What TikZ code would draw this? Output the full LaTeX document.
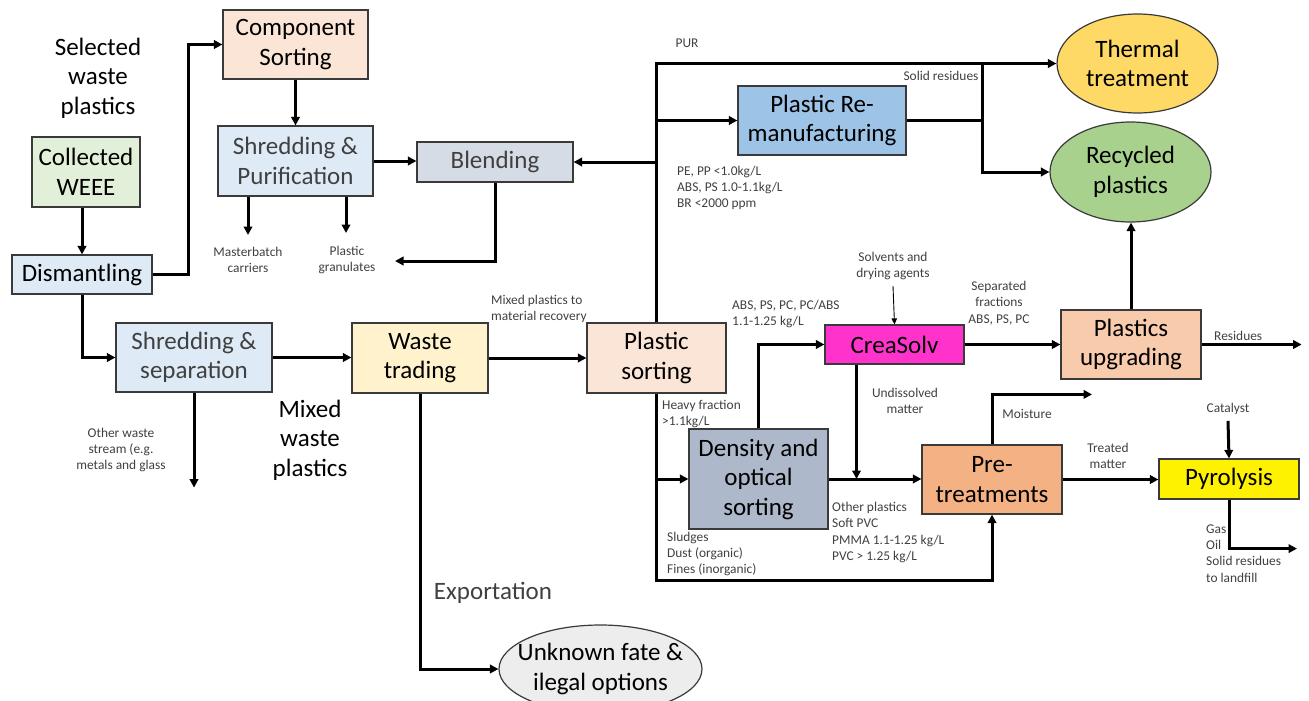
\documentclass[tikz,border=0pt]{standalone}
\usepackage{fontspec}
\setmainfont{Carlito}
\usetikzlibrary{arrows.meta,shapes.geometric}
\definecolor{cPeach}{HTML}{FBE5D6}
\definecolor{cGreen}{HTML}{E2F0D9}
\definecolor{cLBlue}{HTML}{DEEBF7}
\definecolor{cBlend}{HTML}{D6DCE5}
\definecolor{cMBlue}{HTML}{9DC3E6}
\definecolor{cGold}{HTML}{FFD966}
\definecolor{cRecyc}{HTML}{A9D18E}
\definecolor{cCream}{HTML}{FFF2CC}
\definecolor{cSlate}{HTML}{ADB9CA}
\definecolor{cMagenta}{HTML}{FF33CC}
\definecolor{cSalmon}{HTML}{F8CBAD}
\definecolor{cOrange}{HTML}{F4B183}
\definecolor{cGrayE}{HTML}{EDEDED}
\definecolor{cTxt}{HTML}{404040}
\definecolor{cEdge}{HTML}{3A3A3A}
\tikzset{
  big/.style={font=\fontsize{25}{29.5}\selectfont},
  small/.style={font=\fontsize{13.4}{16.3}\selectfont, text=cTxt},
  box/.style={draw=cEdge, line width=1.2pt, inner sep=0pt, align=center, big},
  oval/.style={box, ellipse, inner xsep=-20pt, inner ysep=-10pt},
  lbl/.style={small, inner sep=0pt, align=center},
  lbll/.style={small, inner sep=0pt, align=left, anchor=west},
  arr/.style={line width=3pt, -{Triangle[length=8.5pt,width=8.5pt]}},
  ln/.style={line width=3pt},
  thinarr/.style={line width=0.9pt, -{Triangle[length=6pt,width=5.5pt]}}
}
\begin{document}
\begin{tikzpicture}[x=1pt,y=-1pt]
\useasboundingbox (0,0) rectangle (1309,701);
% boxes
\node[box, fill=cPeach, minimum width=145pt, minimum height=69pt] (comp) at (295.5,44.5) {Component\\Sorting};
\node[box, fill=cGreen, minimum width=108pt, minimum height=70pt] (weee) at (86,172) {Collected\\WEEE};
\node[box, fill=cLBlue, minimum width=140pt, minimum height=39pt] (dism) at (82,274.5) {Dismantling};
\node[box, fill=cLBlue, text=cTxt, minimum width=155pt, minimum height=70pt] (shp) at (295.5,161) {Shredding \&\\Purification};
\node[box, fill=cBlend, text=cTxt, minimum width=156pt, minimum height=40pt] (blend) at (495,162) {Blending};
\node[box, fill=cMBlue, minimum width=168pt, minimum height=69pt] (prm) at (822,120.5) {Plastic Re-\\manufacturing};
\node[oval, fill=cGold, minimum width=161pt, minimum height=99pt] (thermal) at (1137.5,63.5) {Thermal\\treatment};
\node[oval, fill=cRecyc, minimum width=161pt, minimum height=100pt] (recyc) at (1130.5,172) {Recycled\\plastics};
\node[box, fill=cLBlue, text=cTxt, minimum width=156pt, minimum height=69pt] (shs) at (194,357.5) {Shredding \&\\separation};
\node[box, fill=cCream, minimum width=136pt, minimum height=70pt] (wt) at (420,358) {Waste\\trading};
\node[box, fill=cPeach, minimum width=139pt, minimum height=70pt] (ps) at (656.5,358) {Plastic\\sorting};
\node[box, fill=cSlate, minimum width=139pt, minimum height=100pt] (dos) at (758.5,479) {Density and\\optical\\sorting};
\node[box, fill=cMagenta, minimum width=139pt, minimum height=39pt] (crea) at (894.5,344.5) {CreaSolv};
\node[box, fill=cSalmon, minimum width=140pt, minimum height=69pt] (pu) at (1131,344.5) {Plastics\\upgrading};
\node[box, fill=cOrange, minimum width=140pt, minimum height=69pt] (pre) at (992,479.5) {Pre-\\treatments};
\node[box, fill=yellow, minimum width=140pt, minimum height=40pt] (pyro) at (1229,479) {Pyrolysis};
\node[oval, fill=cGrayE, minimum width=203pt, minimum height=88pt] (unk) at (600.5,669) {Unknown fate \&\\ilegal options};
% big labels
\node[big, align=center, inner sep=0pt] (selw) at (98,78) {Selected\\waste\\plastics};
\node[big, align=center, inner sep=0pt] (mixw) at (310,440) {Mixed\\waste\\plastics};
\node[big, align=center, inner sep=0pt, text=cTxt] (expo) at (493,593) {Exportation};
% small labels
\node[lbl] (pur) at (687,43) {PUR};
\node[lbl] (solres) at (941,76) {Solid residues};
\node[lbll] (pepp) at (677,188) {PE, PP <1.0kg/L\\ABS, PS 1.0-1.1kg/L\\BR <2000 ppm};
\node[lbl] (mbl) at (248,260) {Masterbatch\\carriers};
\node[lbl] (grl) at (347,260) {Plastic\\granulates};
\node[lbl] (oth) at (121,450) {Other waste\\stream (e.g.\\metals and glass};
\node[lbll] (mixrec) at (491,309) {Mixed plastics to\\material recovery};
\node[lbll] (heavy) at (662,414) {Heavy fraction\\>1.1kg/L};
\node[lbll] (sludge) at (667,554) {Sludges\\Dust (organic)\\Fines (inorganic)};
\node[lbll] (absps) at (732,314) {ABS, PS, PC, PC/ABS\\1.1-1.25 kg/L};
\node[lbl] (solv) at (893,266) {Solvents and\\drying agents};
\node[lbl] (sepf) at (999,303) {Separated\\fractions\\ABS, PS, PC};
\node[lbll] (resid) at (1214,336) {Residues};
\node[lbl] (undis) at (905,401) {Undissolved\\matter};
\node[lbll] (othp) at (832,532.5) {Other plastics\\Soft PVC\\PMMA 1.1-1.25 kg/L\\PVC > 1.25 kg/L};
\node[lbl] (moist) at (1027,414) {Moisture};
\node[lbl] (treat) at (1108,456) {Treated\\matter};
\node[lbl] (cat) at (1228,409) {Catalyst};
\node[lbll] (gas) at (1206,553.5) {Gas\\Oil\\Solid residues\\to landfill};
% coordinates
\coordinate (mbend) at (248,235);
\coordinate (grend) at (346,233);
\coordinate (blendout) at (395,261);
\coordinate (botl) at (656.5,580);
% connectors
\draw[arr] (dism.north |- weee.south) -- (dism.north);
\draw[arr] (dism.east) -- ++(36,0) |- (comp.west);
\draw[arr] (comp.south) -- (shp.north);
\draw[arr] (shp.east) -- (shp.east -| blend.west);
\draw[arr] (shp.south -| mbend) -- (mbend);
\draw[arr] (shp.south -| grend) -- (grend);
\draw[arr] (blend.south) |- (blendout);
\draw[arr] (ps.north) |- (thermal.west);
\draw[arr] (ps.north |- prm.west) -- (prm.west);
\draw[arr] (ps.north |- blend.east) -- (blend.east);
\draw[ln] (prm.east) -- ++(76,0) coordinate (sr) -- (sr |- thermal.west);
\draw[arr] (sr) |- (recyc.west);
\draw[arr] (dism.south) |- (shs.west);
\draw[arr] (shs.east) -- (shs.east -| wt.west);
\draw[arr] (shs.south) -- ++(0,95);
\draw[arr] (wt.south) |- (unk.west);
\draw[arr] (wt.east) -- (wt.east -| ps.west);
\draw[arr] (ps.south) -- (botl) -| (pre.south);
\draw[arr] (ps.south |- dos.west) -- (dos.west);
\draw[arr] (dos.north) |- (crea.west);
\draw[arr] (dos.east) -- (dos.east -| pre.west);
\draw[arr] ([xshift=-38pt]crea.south) -- ([xshift=-38pt]crea.south |- dos.east);
\draw[thinarr] ([yshift=-6pt]solv.south) -- (crea.north);
\draw[arr] (crea.east) -- (crea.east -| pu.west);
\draw[arr] (pu.north) -- (pu.north |- recyc.south);
\draw[arr] (pu.east) -- ++(100,0);
\draw[arr] (pre.north) -- ++(0,-50) -- ++(100,0);
\draw[arr] (pre.east) -- (pre.east -| pyro.west);
\draw[arr] ([yshift=-6pt]cat.south) -- (pyro.north);
\draw[arr] (pyro.south) -- ++(0,49) -- ++(68,0);
\end{tikzpicture}
\end{document}
